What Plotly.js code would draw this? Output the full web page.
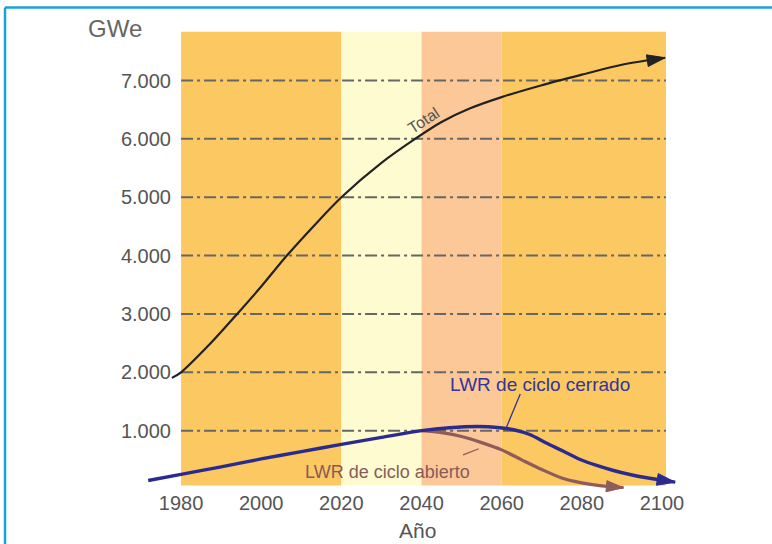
<!DOCTYPE html>
<html>
<head>
<meta charset="utf-8">
<script src="https://cdn.plot.ly/plotly-3.0.1.min.js"></script>
<style>html,body{margin:0;padding:0;background:#fff;}#chart{width:772px;height:544px;}</style>
</head>
<body>
<div id="chart"></div>
<script>
// ---- data ----
const totalYears = [1977.7, 1980, 1987, 1994, 2000, 2006.4, 2013, 2020, 2030, 2038.4, 2045, 2052, 2060, 2070, 2080, 2090, 2100.8];
const totalValues = [1904, 2000, 2470, 3000, 3470, 4000, 4500, 5000, 5590, 6000, 6290, 6520, 6716, 6920, 7100, 7270, 7390];

const cerradoYears = [1971.8, 1980, 1990, 2000, 2010, 2020, 2030, 2040, 2047, 2054, 2059, 2063, 2067, 2071, 2075.4, 2079.6, 2083.7, 2087.9, 2092, 2096.2, 2103.3];
const cerradoValues = [145, 250, 380, 515, 640, 765, 885, 1000, 1050, 1070, 1055, 1015, 934, 792, 648, 506, 403, 317, 248, 192, 117];

const abiertoYears = [2040, 2045, 2050, 2055, 2060, 2065, 2070, 2075, 2080, 2085, 2090.4];
const abiertoValues = [1000, 965, 900, 795, 670, 500, 335, 190, 106, 55, 22];

const bandStarts = [1980, 2020, 2040, 2060];
const bandEnds = [2020, 2040, 2060, 2101];
const bandColors = ['#fcc862', '#fffbd0', '#fdc898', '#fcc862'];
const bandBottom = 60;
const bandTop = 7834;

const yTickVals = [1000, 2000, 3000, 4000, 5000, 6000, 7000];
const yTickText = ['1.000', '2.000', '3.000', '4.000', '5.000', '6.000', '7.000'];
const xTickVals = [1980, 2000, 2020, 2040, 2060, 2080, 2100];
const xTickText = ['1980', '2000', '2020', '2040', '2060', '2080', '2100'];

// ---- helpers ----
function lineTrace(xs, ys, color, width) {
  return {x: xs, y: ys, mode: 'lines', line: {color: color, width: width, shape: 'spline', smoothing: 0.9},
          hoverinfo: 'skip'};
}
function headTrace(xs, ys, color, size) {
  const n = xs.length;
  return {x: xs.slice(n - 2), y: ys.slice(n - 2), mode: 'markers', hoverinfo: 'skip', cliponaxis: false,
          marker: {symbol: 'arrow', angleref: 'previous', size: [0, size], color: color, opacity: 1,
                   line: {width: 1, color: color}}};
}

const shapes = [];
bandStarts.forEach((s, i) => {
  shapes.push({type: 'rect', xref: 'x', yref: 'y', x0: s, x1: bandEnds[i], y0: bandBottom, y1: bandTop,
    fillcolor: bandColors[i], line: {width: 0}, layer: 'below'});
});
yTickVals.forEach(v => {
  shapes.push({type: 'line', xref: 'x', yref: 'y', x0: bandStarts[0], x1: bandEnds[bandEnds.length - 1], y0: v, y1: v,
    line: {color: '#666666', width: 2, dash: '12px,4px,3px,4px'}, layer: 'below'});
});
// frame (top & left blue border)
shapes.push({type: 'line', xref: 'paper', yref: 'paper', x0: -0.2495, x1: 1.2, y0: 1.0445, y1: 1.0445, line: {color: '#1aa3d9', width: 2.5}});
shapes.push({type: 'line', xref: 'paper', yref: 'paper', x0: -0.2495, x1: -0.2495, y0: 1.0445, y1: -0.2, line: {color: '#1aa3d9', width: 2.5}});

const traces = [
  lineTrace(abiertoYears, abiertoValues, '#8e5c5a', 3.2),
  headTrace(abiertoYears, abiertoValues, '#8e5c5a', 18),
  lineTrace(cerradoYears, cerradoValues, '#2b2b8e', 3.4),
  headTrace(cerradoYears, cerradoValues, '#2b2b8e', 19),
  lineTrace(totalYears, totalValues, '#222222', 2.2),
  headTrace(totalYears, totalValues, '#222222', 19)
];

const fam = 'Liberation Sans, Arial, sans-serif';
const tickFont = {family: fam, size: 20, color: '#555555'};

const layout = {
  width: 772, height: 544,
  margin: {l: 141, r: 86, t: 28, b: 55},
  paper_bgcolor: '#ffffff', plot_bgcolor: 'rgba(0,0,0,0)',
  showlegend: false,
  xaxis: {range: [1970, 2106], tickvals: xTickVals, ticktext: xTickText, showgrid: false, zeroline: false,
          showline: false, ticks: '', tickfont: tickFont, fixedrange: true},
  yaxis: {range: [0, 7900], tickvals: yTickVals, ticktext: yTickText, showgrid: false, zeroline: false,
          showline: false, ticks: '', tickfont: tickFont, anchor: 'free', position: 0.055, fixedrange: true},
  shapes: shapes,
  annotations: [
    {text: 'GWe', xref: 'paper', yref: 'paper', x: -0.048, y: 0.998, xanchor: 'center', yanchor: 'middle', showarrow: false,
     font: {family: fam, size: 24, color: '#666666'}},
    {text: 'Año', xref: 'x', yref: 'paper', x: 2039, y: -0.089, xanchor: 'center', yanchor: 'middle', showarrow: false,
     font: {family: fam, size: 21, color: '#555555'}},
    {text: 'Total', xref: 'x', yref: 'y', x: 2040.5, y: 6310, showarrow: false, textangle: -33,
     font: {family: fam, size: 16, color: '#555555'}},
    {text: 'LWR de ciclo cerrado', xref: 'x', yref: 'y', x: 2069.6, y: 1791, showarrow: false,
     font: {family: fam, size: 19, color: '#34349a'}},
    {text: '', xref: 'x', yref: 'y', x: 2061.2, y: 1060, axref: 'x', ayref: 'y', ax: 2064.8, ay: 1654,
     showarrow: true, arrowhead: 0, arrowwidth: 1.3, arrowcolor: '#34349a'},
    {text: 'LWR de ciclo abierto', xref: 'x', yref: 'y', x: 2031.6, y: 299, showarrow: false,
     font: {family: fam, size: 18, color: '#8a5a5a'}},
    {text: '', xref: 'x', yref: 'y', x: 2054.3, y: 690, axref: 'x', ayref: 'y', ax: 2050, ay: 575,
     showarrow: true, arrowhead: 0, arrowwidth: 1.3, arrowcolor: '#8a5a5a'}
  ]
};

Plotly.newPlot('chart', traces, layout, {displayModeBar: false, staticPlot: true});
</script>
</body>
</html>
